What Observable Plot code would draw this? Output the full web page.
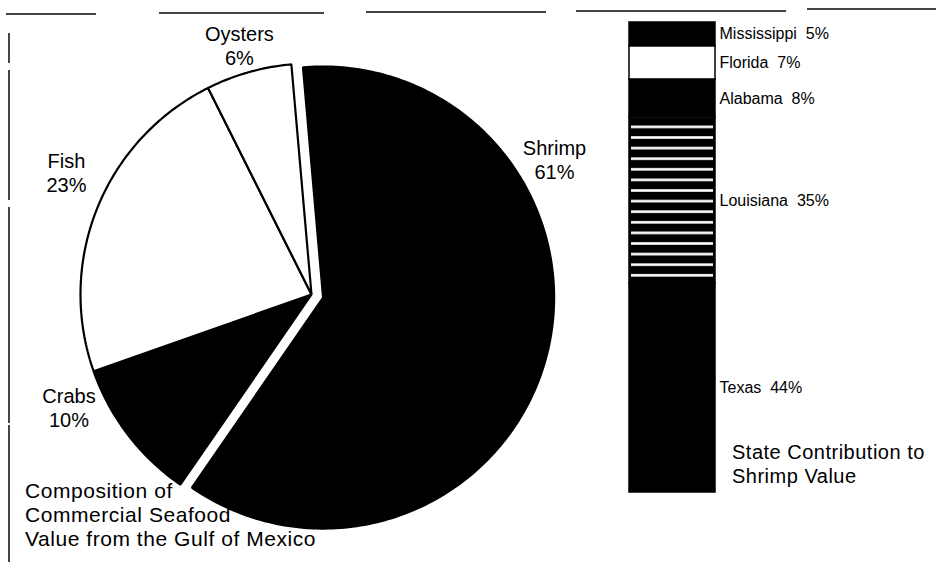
<!DOCTYPE html>
<html><head><meta charset="utf-8">
<script src="https://cdn.jsdelivr.net/npm/d3@7"></script>
<script src="https://cdn.jsdelivr.net/npm/@observablehq/plot@0.6"></script>
<style>
html,body{margin:0;padding:0;background:#fff;}
#chart{position:relative;width:936px;height:562px;overflow:hidden;font-family:"Liberation Sans",Arial,sans-serif;color:#000;}
#chart svg{position:absolute;top:0;}
.note{position:absolute;font-size:20px;line-height:24px;white-space:nowrap;letter-spacing:0.5px;}
.note.big{font-size:21px;letter-spacing:0.55px;}
.seg{position:absolute;background:#444;}
</style></head><body><div id="chart"></div>
<script>
// ---- data ----
const categories = ["Shrimp", "Crabs", "Fish", "Oysters"];
const shares = [61, 10, 23, 6];
const states = ["Texas", "Louisiana", "Alabama", "Florida", "Mississippi"];
const stateShares = [44, 35, 8, 7, 5];
const pieTitle = ["Composition of", "Commercial Seafood", "Value from the Gulf of Mexico"];
const barTitle = ["State Contribution to", "Shrimp Value"];

// ---- styles / layout ----
const sliceFill = {Shrimp: "#000", Crabs: "#000", Fish: "#fff", Oysters: "#fff"};
const exploded = "Shrimp";
const stateFill = {Texas: "#000", Louisiana: "url(#la-stripes)", Alabama: "#000", Florida: "#fff", Mississippi: "#000"};
// label anchor in pie-radius units relative to pie centre (x right, y up)
const labelPos = {Shrimp: [1.052, 0.584], Crabs: [-1.05, -0.49], Fish: [-1.061, 0.528], Oysters: [-0.312, 1.078]};

const W1 = 600, H = 562, R = 231, CX = 311, CY = 294, EXPLODE = 12, START_DEG = -5;
const font = '"Liberation Sans", Arial, sans-serif';
const chart = document.getElementById("chart");

// ---- pie ----
const pieData = categories.map((c, i) => ({name: c, share: shares[i]}));
const a0 = START_DEG * Math.PI / 180;
const arcs = d3.pie().sort(null).value(d => d.share).startAngle(a0).endAngle(a0 + 2 * Math.PI)(pieData);
const slices = arcs.map(a => {
  const mid = (a.startAngle + a.endAngle) / 2;
  const off = a.data.name === exploded ? EXPLODE / R : 0;
  const ox = off * Math.sin(mid), oy = off * Math.cos(mid);
  const n = Math.max(8, Math.ceil((a.endAngle - a.startAngle) * 180 / Math.PI));
  const pts = [{x: ox, y: oy}];
  for (let k = 0; k <= n; k++) {
    const t = a.startAngle + (a.endAngle - a.startAngle) * k / n;
    pts.push({x: ox + Math.sin(t), y: oy + Math.cos(t)});
  }
  return {name: a.data.name, share: a.data.share, pts};
});
const pieLabels = pieData.map(d => ({
  x: labelPos[d.name][0], y: labelPos[d.name][1], text: `${d.name}\n${d.share}%`
}));

const pie = Plot.plot({
  width: W1, height: H, margin: 0,
  style: {fontFamily: font, background: "transparent", overflow: "visible"},
  x: {domain: [-CX / R, (W1 - CX) / R], axis: null},
  y: {domain: [-(H - CY) / R, CY / R], axis: null},
  marks: [
    ...slices.map(s => Plot.line(s.pts, {
      x: "x", y: "y", curve: "linear-closed",
      fill: sliceFill[s.name], stroke: "#000", strokeWidth: 2.2, strokeLinejoin: "miter"
    })),
    Plot.text(pieLabels, {x: "x", y: "y", text: "text", fontSize: 20, lineHeight: 1.2,
      textAnchor: "middle", fill: "#000", style: "letter-spacing:0.4px"})
  ]
});
pie.style.left = "0px";
chart.appendChild(pie);

// ---- stacked bar ----
const stateData = states.map((s, i) => ({group: "Shrimp", state: s, share: stateShares[i], fill: stateFill[s]}));
const bar = Plot.plot({
  width: 336, height: H,
  marginLeft: 29, marginRight: 221, marginTop: 22, marginBottom: 70,
  style: {fontFamily: font, background: "transparent", overflow: "visible"},
  x: {type: "band", domain: ["Shrimp"], padding: 0, axis: null},
  y: {domain: [0, d3.sum(stateShares)], axis: null},
  color: {type: "identity"},
  marks: [
    Plot.barY(stateData, Plot.stackY({x: "group", y: "share", fill: "fill", stroke: "#000", strokeWidth: 1.5})),
    Plot.text(stateData, Plot.stackY({x: "group", y: "share",
      text: d => `${d.state}\u00a0 ${d.share}%`, textAnchor: "start", dx: 47, fontSize: 16,
      fill: "#000", style: "letter-spacing:0.5px"}))
  ]
});
bar.style.left = "600px";
const defs = d3.select(bar).insert("defs", ":first-child");
const pat = defs.append("pattern").attr("id", "la-stripes").attr("patternUnits", "userSpaceOnUse")
  .attr("x", 29).attr("y", 5).attr("width", 86).attr("height", 10.6);
pat.append("rect").attr("width", 86).attr("height", 10.6).attr("fill", "#000");
pat.append("rect").attr("x", 2).attr("y", 4).attr("width", 82).attr("height", 2.6).attr("fill", "#fff");
chart.appendChild(bar);

// ---- text blocks ----
function note(lines, left, top, cls) {
  const d = document.createElement("div");
  d.className = "note" + (cls ? " " + cls : "");
  d.style.left = left + "px"; d.style.top = top + "px";
  d.innerHTML = lines.join("<br>");
  chart.appendChild(d);
}
note(pieTitle, 25, 479, "big");
note(barTitle, 732, 440);

// ---- scanned frame remnants ----
const frameTop = [[6, 96, 13], [159, 324, 12], [366, 546, 11], [576, 786, 10], [807, 936, 8]];
frameTop.forEach(([x0, x1, y]) => {
  const s = document.createElement("div"); s.className = "seg";
  Object.assign(s.style, {left: x0 + "px", top: y + "px", width: (x1 - x0) + "px", height: "1.5px"});
  chart.appendChild(s);
});
const frameLeft = [[33, 63], [70, 200], [207, 423], [425, 562]];
frameLeft.forEach(([y0, y1]) => {
  const s = document.createElement("div"); s.className = "seg";
  Object.assign(s.style, {left: "8px", top: y0 + "px", width: "1.5px", height: (y1 - y0) + "px"});
  chart.appendChild(s);
});
</script></body></html>
